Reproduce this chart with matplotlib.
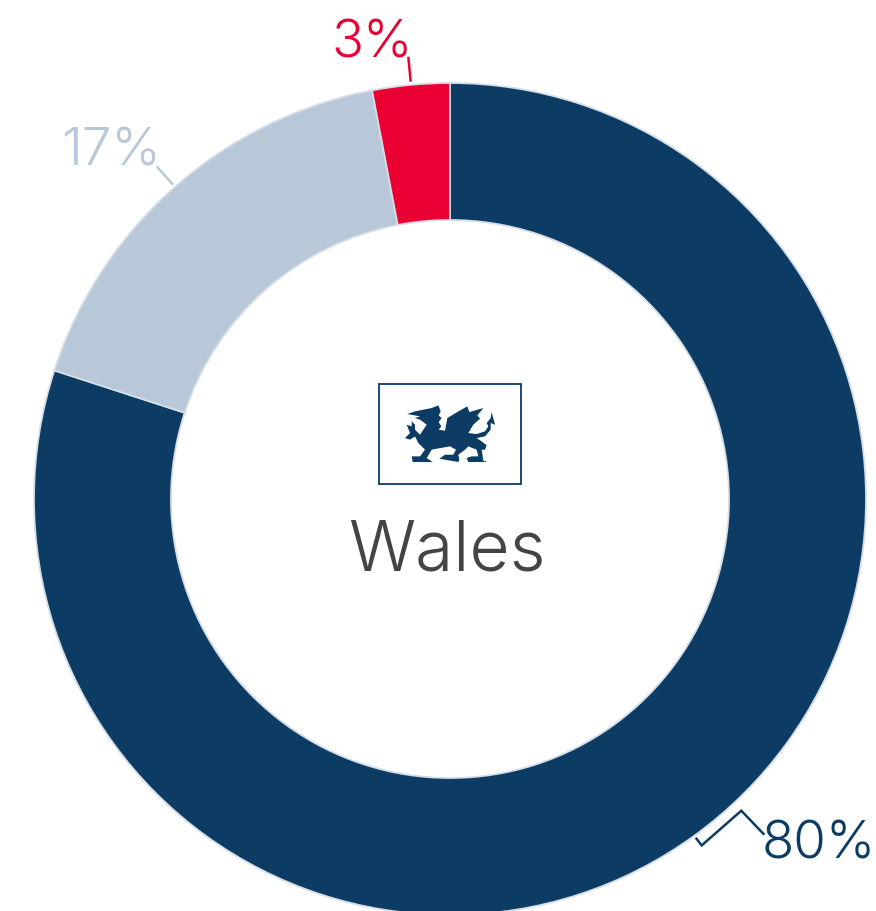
import matplotlib
matplotlib.use("Agg")
import matplotlib.pyplot as plt
from matplotlib.patches import Rectangle, Polygon

plt.rcParams['font.family'] = ['Inter', 'DejaVu Sans']

categories = ["Navy", "Light", "Red"]
values = [80, 17, 3]
labels = ["80%", "17%", "3%"]
title = "Wales"
NAVY, LIGHT, RED = "#0C3C64", "#B8C8D8", "#EB0033"
colors = [NAVY, LIGHT, RED]

W, H = 876, 912
fig = plt.figure(figsize=(W / 100, H / 100), dpi=100)
ax = fig.add_axes([0, 0, 1, 1])
Y = lambda p: H - p - 0.7

ax.pie(values, colors=colors, startangle=90, counterclock=False,
       center=(450, Y(499.3)), radius=416,
       wedgeprops=dict(width=137, edgecolor="#D5DDE6", linewidth=1.3))
ax.set_xlim(0, W)
ax.set_ylim(0, H)
ax.set_aspect("equal")
ax.axis("off")

# leader lines (pixel coordinates of the picture)
leaders = [
    ([695.7, 701.7, 741.3, 764.3], [838, 845.7, 811, 835], NAVY),
    ([173, 156.7], [185, 166.7], LIGHT),
    ([410.7, 408.3], [82, 57], RED),
]
for xs, ys, c in leaders:
    ax.plot(xs, [Y(v) for v in ys], color=c, lw=1.8, solid_capstyle="butt",
            solid_joinstyle="miter")

fs = 38
weight = 300
ax.text(818.5, Y(858), labels[0], color=NAVY, fontsize=fs, fontweight=weight, ha="center", va="baseline")
ax.text(110.5, Y(165), labels[1], color=LIGHT, fontsize=fs, fontweight=weight, ha="center", va="baseline")
ax.text(372, Y(57), labels[2], color=RED, fontsize=fs, fontweight=weight, ha="center", va="baseline")
ax.text(447, Y(570), title, color="#444444", fontsize=50, fontweight=weight, ha="center", va="baseline")

# flag
ax.add_patch(Rectangle((379, Y(484)), 142, 100, facecolor="white", edgecolor=NAVY, lw=1.3))


def zoomed(pts):
    return [(x / 3 + 370, Y(y / 3 + 375)) for x, y in pts]


dragon = [(112, 118), (135, 110), (160, 105), (185, 100), (205, 92), (212, 110), (206, 122), (215, 130),
          (206, 142), (214, 155), (206, 165), (225, 168), (232, 130), (262, 112), (292, 95), (298, 112),
          (340, 100), (322, 122), (330, 132), (310, 150), (295, 175), (320, 178), (345, 170), (355, 155),
          (350, 145), (362, 130), (365, 112), (375, 150), (362, 145), (362, 165), (345, 185), (320, 190),
          (335, 200), (350, 212), (345, 225), (335, 225), (340, 258), (352, 262), (295, 262), (290, 250),
          (305, 245), (325, 245), (320, 225), (295, 215), (285, 225), (265, 240), (268, 255), (265, 262),
          (208, 252), (225, 240), (250, 240), (258, 225), (240, 215), (200, 222), (185, 225), (170, 250),
          (188, 262), (128, 262), (125, 245), (150, 245), (165, 225), (145, 205), (135, 185), (120, 195),
          (105, 190), (120, 175), (110, 150), (125, 155), (125, 140), (135, 150), (135, 165), (150, 180),
          (160, 165), (170, 150), (150, 135), (135, 130), (150, 125)]
curl = [(320, 160), (335, 150), (352, 152), (345, 160), (330, 160), (335, 168), (318, 168)]
ax.add_patch(Polygon(zoomed(dragon), closed=True, facecolor=NAVY, edgecolor="none"))
ax.add_patch(Polygon(zoomed(curl), closed=True, facecolor="white", edgecolor="none"))

fig.savefig("out.png", dpi=100, facecolor="white")
